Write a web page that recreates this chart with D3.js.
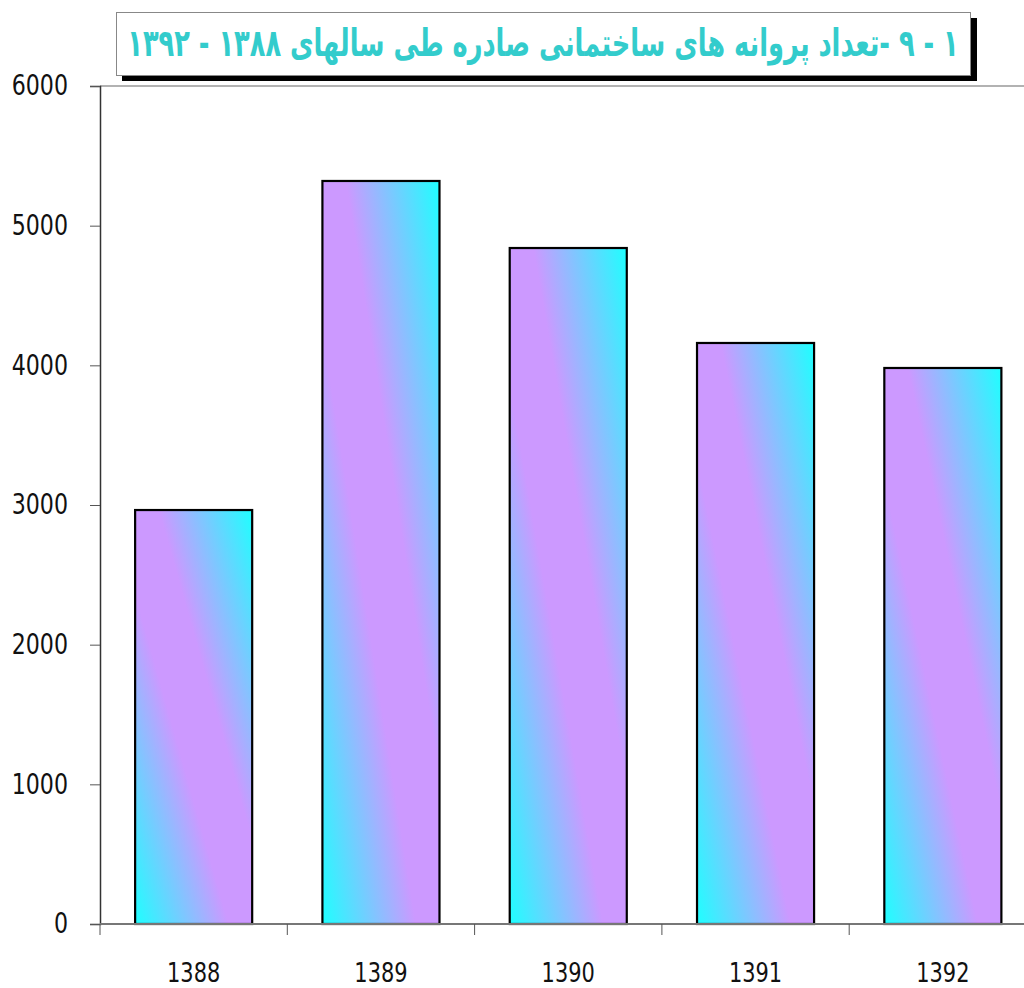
<!DOCTYPE html>
<html><head><meta charset="utf-8">
<script src="https://cdn.jsdelivr.net/npm/d3@7"></script>
<style>body{margin:0;background:#fff}svg{display:block}</style>
</head><body>
<script>
const categories = ["1388","1389","1390","1391","1392"];
const values = [2964, 5320, 4840, 4160, 3981];
const yTicks = [0,1000,2000,3000,4000,5000,6000];
const titleText = "۱ - ۹ -تعداد پروانه های ساختمانی صادره طی سالهای ۱۳۸۸ - ۱۳۹۲";

(function(){
const W = 1024, H = 988;
const svg = d3.select("body").append("svg").attr("width", W).attr("height", H);
const defs = svg.append("defs");
const grad = defs.append("linearGradient").attr("id","barGrad")
  .attr("x1",0).attr("y1",1).attr("x2",1).attr("y2",0);
grad.append("stop").attr("offset","0%").attr("stop-color","#1effff");
grad.append("stop").attr("offset","40%").attr("stop-color","#cc99ff");
grad.append("stop").attr("offset","60%").attr("stop-color","#cc99ff");
grad.append("stop").attr("offset","100%").attr("stop-color","#1effff");

const mLeft = 100, mTop = 86, mBottom = 924, mRight = 1036.5;
const x = d3.scaleBand().domain(categories).range([mLeft, mRight]).paddingInner(0.375).paddingOuter(0.1875);
const xb = d3.scaleBand().domain(categories).range([mLeft, mRight]);
const y = d3.scaleLinear().domain([0,6000]).range([mBottom, mTop]);
const labelFont = "'DejaVu Sans',sans-serif";
const squeeze = 0.79;
function condense(sel){
  sel.each(function(){
    const L = this.getComputedTextLength();
    if (L > 0) d3.select(this).attr("textLength", L*squeeze).attr("lengthAdjust","spacingAndGlyphs");
  });
}

svg.append("line").attr("x1",mLeft).attr("x2",W).attr("y1",mTop).attr("y2",mTop)
  .attr("stroke","#999").attr("stroke-width",1.5);

svg.append("g").selectAll("rect").data(values).join("rect")
  .attr("x",(d,i)=>x(categories[i]))
  .attr("width",x.bandwidth())
  .attr("y",d=>y(d))
  .attr("height",d=>mBottom-y(d))
  .attr("fill","url(#barGrad)")
  .attr("stroke","#000").attr("stroke-width",2.2);

const yAxis = d3.axisLeft(y).tickValues(yTicks).tickSize(10).tickPadding(22).tickFormat(d3.format("d"));
const gy = svg.append("g").attr("transform",`translate(${mLeft},0)`).call(yAxis);
gy.select(".domain").attr("stroke","#333").attr("stroke-width",1.5);
gy.selectAll(".tick line").attr("stroke","#555");
gy.selectAll(".tick text").attr("font-family",labelFont).attr("font-size",28).attr("fill","#111")
  .call(condense);

const xAxis = d3.axisBottom(xb).tickSize(0).tickPadding(0);
const gx = svg.append("g").attr("transform",`translate(0,${mBottom})`).call(xAxis);
gx.select(".domain").remove();
gx.selectAll(".tick text").attr("dy",null).attr("y",57.5)
  .attr("font-family",labelFont).attr("font-size",26.5).attr("fill","#111")
  .call(condense);

svg.append("line").attr("x1",mLeft).attr("x2",W).attr("y1",mBottom).attr("y2",mBottom)
  .attr("stroke","#777").attr("stroke-width",2);
const bounds = categories.map(c=>xb(c));
svg.append("g").selectAll("line").data(bounds).join("line")
  .attr("x1",d=>d).attr("x2",d=>d).attr("y1",mBottom).attr("y2",mBottom+11)
  .attr("stroke","#555").attr("stroke-width",1);

svg.append("rect").attr("x",122).attr("y",18).attr("width",855).attr("height",63).attr("fill","#000");
svg.append("rect").attr("x",116.5).attr("y",12.5).attr("width",854).attr("height",63)
  .attr("fill","#fff").attr("stroke","#888").attr("stroke-width",1);
const t = svg.append("text").attr("x",0).attr("y",0)
  .attr("text-anchor","middle").attr("direction","rtl")
  .attr("font-family","'DejaVu Sans',sans-serif").attr("font-weight","bold")
  .attr("font-size",38).attr("fill","#33cccc").text(titleText);
const len = t.node().getComputedTextLength();
const sx = len > 0 ? 832/len : 1;
t.attr("transform",`translate(543,56) scale(${sx},1)`);
})();
</script>
</body></html>
